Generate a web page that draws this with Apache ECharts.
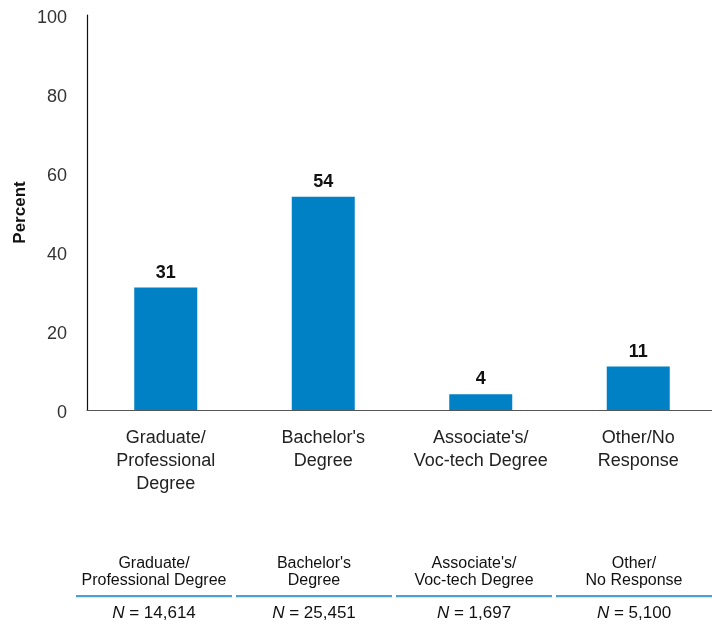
<!DOCTYPE html>
<html>
<head>
<meta charset="utf-8">
<script src="https://cdn.jsdelivr.net/npm/echarts@6/dist/echarts.min.js"></script>
<style>
html,body{margin:0;padding:0;background:#fff;}
#chart{width:712px;height:624px;}
</style>
</head>
<body>
<div id="chart"></div>
<script>
var categories = ['Graduate/\nProfessional\nDegree', "Bachelor's\nDegree", "Associate's/\nVoc-tech Degree", 'Other/No\nResponse'];
var percents = [31, 54, 4, 11];
var tableHeaders = ['Graduate/\nProfessional Degree', "Bachelor's\nDegree", "Associate's/\nVoc-tech Degree", 'Other/\nNo Response'];
var tableN = ['14,614', '25,451', '1,697', '5,100'];
var yTicks = [0, 20, 40, 60, 80, 100];

var font = '"Liberation Sans", Arial, Helvetica, sans-serif';
var chart = echarts.init(document.getElementById('chart'));

var graphics = [];
var colLeft = 76, colW = 156, colGap = 4;
tableHeaders.forEach(function (h, i) {
  var x0 = colLeft + i * (colW + colGap);
  var cx = x0 + colW / 2;
  graphics.push({
    type: 'text', x: cx, y: 572,
    style: { text: h, textAlign: 'center', textVerticalAlign: 'middle', font: '16px ' + font, fill: '#111', lineHeight: 17 }
  });
  graphics.push({
    type: 'text', x: cx, y: 613,
    style: {
      text: '{i|N} = ' + tableN[i], textAlign: 'center', textVerticalAlign: 'middle', font: '17px ' + font, fill: '#111',
      rich: { i: { fontStyle: 'italic', fontSize: 17, fontFamily: font, fill: '#111' } }
    }
  });
  graphics.push({
    type: 'rect', shape: { x: x0, y: 595, width: colW, height: 2.2 },
    style: { fill: '#4d9fd6' }
  });
});

var option = {
  backgroundColor: '#fff',
  animation: false,
  grid: { left: 87, width: 630, top: 15, height: 395, outerBoundsMode: 'none', containLabel: false },
  xAxis: {
    type: 'category',
    data: categories,
    axisLine: { show: true, lineStyle: { color: '#555', width: 1.2 } },
    axisTick: { show: false },
    axisLabel: {
      interval: 0, margin: 17, fontSize: 18, lineHeight: 23,
      color: '#222', fontFamily: font
    }
  },
  yAxis: {
    type: 'value', min: 0, max: 100, interval: 20,
    name: 'Percent', nameLocation: 'middle', nameGap: 58, nameRotate: 90, nameMoveOverlap: false,
    nameTextStyle: { fontSize: 17, fontWeight: 'bold', color: '#111', fontFamily: font },
    axisLine: { show: true, lineStyle: { color: '#111', width: 1.2 } },
    axisTick: { show: false },
    splitLine: { show: false },
    axisLabel: {
      margin: 20, fontSize: 18, color: '#333', fontFamily: font,
      verticalAlign: 'top', lineHeight: 6,
      formatter: function (v) { return yTicks.indexOf(v) >= 0 ? String(v) : ''; }
    }
  },
  series: [{
    type: 'bar',
    data: percents,
    barWidth: '40%',
    itemStyle: { color: '#0081c6' },
    label: {
      show: true, position: 'top', distance: 6,
      fontSize: 18, fontWeight: 'bold', color: '#111', fontFamily: font
    }
  }],
  graphic: graphics
};
chart.setOption(option);
</script>
</body>
</html>
